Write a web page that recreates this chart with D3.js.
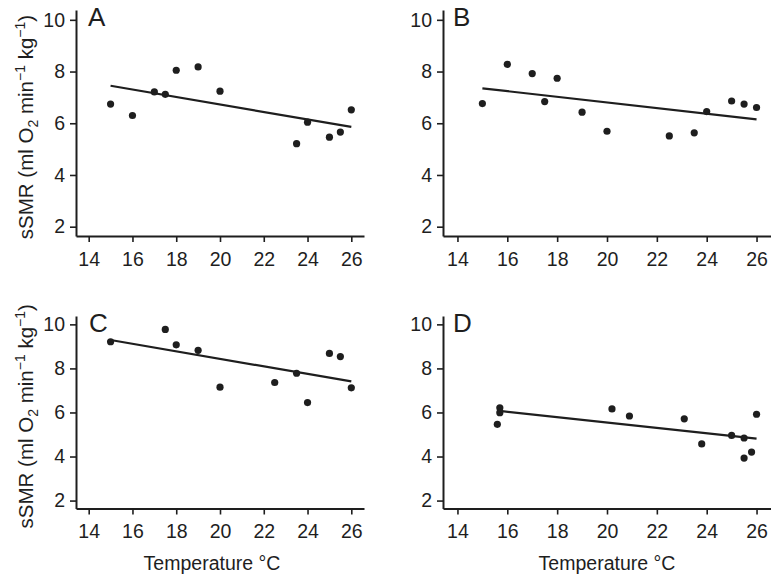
<!DOCTYPE html>
<html><head><meta charset="utf-8">
<script src="https://cdn.jsdelivr.net/npm/d3@7"></script>
<style>
body{margin:0;background:#fff;}
text{font-family:"Liberation Sans",Arial,sans-serif;fill:#1e1e1e;}
</style></head>
<body><svg id="chart" width="771" height="577"></svg>
<script>
const xTicks=[14,16,18,20,22,24,26];
const yTicks=[2,4,6,8,10];
const panelLabels=["A","B","C","D"];

const tempA=[15,16,17,17.5,18,19,20,23.5,24,25,25.5,26];
const smrA=[6.74,6.30,7.21,7.12,8.05,8.18,7.24,5.21,6.04,5.46,5.66,6.52];
const fitXA=[15,26], fitYA=[7.45,5.86];

const tempB=[15,16,17,17.5,18,19,20,22.5,23.5,24,25,25.5,26];
const smrB=[6.76,8.28,7.92,6.84,7.74,6.43,5.69,5.51,5.63,6.45,6.86,6.74,6.61];
const fitXB=[15,26], fitYB=[7.35,6.15];

const tempC=[15,17.5,18,19,20,22.5,23.5,24,25,25.5,26];
const smrC=[9.21,9.77,9.07,8.82,7.15,7.36,7.78,6.45,8.68,8.54,7.12];
const fitXC=[15,26], fitYC=[9.29,7.41];

const tempD=[15.6,15.7,15.7,20.2,20.9,23.1,23.8,25.0,25.5,25.5,25.8,26.0];
const smrD=[5.46,6.21,5.99,6.16,5.84,5.71,4.57,4.96,4.84,3.93,4.20,5.92];
const fitXD=[15.7,26], fitYD=[6.07,4.81];

const xDomain=[13.42,26.58];
const yDomain=[1.64,10.38];
const ink="#1e1e1e";

const panels=[
 {label:panelLabels[0],t:tempA,v:smrA,fx:fitXA,fy:fitYA,l:76,r:364,top:10,bot:236,ylab:true,xlab:false,lx:88,ly:26},
 {label:panelLabels[1],t:tempB,v:smrB,fx:fitXB,fy:fitYB,l:443,r:771,top:10,bot:236,ylab:false,xlab:false,lx:453,ly:26},
 {label:panelLabels[2],t:tempC,v:smrC,fx:fitXC,fy:fitYC,l:76,r:364,top:316,bot:508.5,ylab:true,xlab:true,lx:89,ly:332,tx:212},
 {label:panelLabels[3],t:tempD,v:smrD,fx:fitXD,fy:fitYD,l:443,r:771,top:316,bot:508.5,ylab:false,xlab:true,lx:453,ly:332,tx:607}
];

const svg=d3.select("#chart");
panels.forEach(p=>{
  const x=d3.scaleLinear().domain(xDomain).range([p.l,p.r]);
  const y=d3.scaleLinear().domain(yDomain).range([p.bot,p.top]);
  const g=svg.append("g");
  const xa=g.append("g").attr("transform",`translate(0,${p.bot})`)
    .call(d3.axisBottom(x).tickValues(xTicks).tickSize(6).tickSizeOuter(0).tickPadding(10));
  const ya=g.append("g").attr("transform",`translate(${p.l},0)`)
    .call(d3.axisLeft(y).tickValues(yTicks).tickSize(6).tickSizeOuter(0).tickPadding(5));
  [xa,ya].forEach(a=>{
    a.select(".domain").attr("stroke",ink).attr("stroke-width",2);
    a.selectAll(".tick line").attr("stroke",ink).attr("stroke-width",1.6);
    a.selectAll(".tick text").attr("font-size",19.5).attr("fill",ink)
      .style("font-family","'Liberation Sans',Arial,sans-serif");
  });
  const pts=p.fx.map((d,i)=>[x(d),y(p.fy[i])]);
  g.append("path").attr("d",d3.line()(pts)).attr("stroke",ink).attr("stroke-width",2.2).attr("fill","none");
  g.selectAll("circle").data(p.t.map((d,i)=>[d,p.v[i]])).enter().append("circle")
    .attr("cx",d=>x(d[0])).attr("cy",d=>y(d[1])).attr("r",3.6).attr("fill",ink);
  g.append("text").attr("x",p.lx).attr("y",p.ly).attr("font-size",26).text(p.label);
  if(p.ylab){
    const cy=(p.top+p.bot)/2+4;
    const t=g.append("text").attr("transform",`translate(33,${cy}) rotate(-90)`)
      .attr("text-anchor","middle").attr("font-size",20.5);
    t.append("tspan").text("sSMR (ml O");
    t.append("tspan").attr("font-size",14).attr("dy",5).text("2");
    t.append("tspan").attr("dy",-5).text(" min");
    t.append("tspan").attr("font-size",14).attr("dy",-8).text("\u22121");
    t.append("tspan").attr("dy",8).text(" kg");
    t.append("tspan").attr("font-size",14).attr("dy",-8).text("\u22121");
    t.append("tspan").attr("dy",8).text(")");
  }
  if(p.xlab){
    g.append("text").attr("x",p.tx).attr("y",570).attr("text-anchor","middle")
      .attr("font-size",19.5).text("Temperature \u00B0C");
  }
});
</script></body></html>
